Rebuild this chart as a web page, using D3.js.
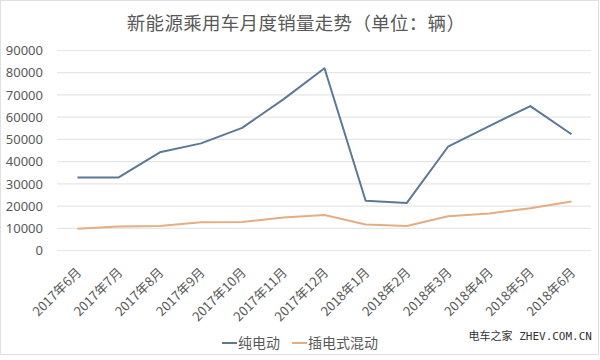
<!DOCTYPE html>
<html><head><meta charset="utf-8">
<script src="https://cdn.jsdelivr.net/npm/d3@7"></script>
<style>body{margin:0;background:#fff}svg{display:block}text{font-family:"Noto Sans CJK SC","Microsoft YaHei",sans-serif}</style>
</head><body>
<svg id="c" width="600" height="360"></svg>
<script>
const months = ["2017年6月","2017年7月","2017年8月","2017年9月","2017年10月","2017年11月","2017年12月","2018年1月","2018年2月","2018年3月","2018年4月","2018年5月","2018年6月"];
const bev = [32900,32900,44200,48200,55200,68000,82000,22400,21400,46700,56000,65000,52300];
const phev = [9800,10800,11000,12700,12800,14900,16000,11700,11000,15400,16700,19000,22100];
const yTicks = [0,10000,20000,30000,40000,50000,60000,70000,80000,90000];
const seriesNames = ["纯电动","插电式混动"];
const colors = ["#5b7897","#e4ad82"];

const svg = d3.select("#c");
svg.append("rect").attr("x",0.5).attr("y",0.5).attr("width",598).attr("height",354).attr("fill","#fff").attr("stroke","#e0e0e0");

const x = d3.scalePoint().domain(months).range([77.5,571.5]);
const y = d3.scaleLinear().domain([0,90000]).range([250.5,50.5]);

// gridlines
svg.append("g").selectAll("line").data(yTicks).join("line")
  .attr("x1",57).attr("x2",591).attr("y1",d=>y(d)).attr("y2",d=>y(d))
  .attr("stroke","#e6e6e6").attr("stroke-width",1.2);

// y axis
const ya = svg.append("g").attr("transform","translate(43,0)")
  .call(d3.axisLeft(y).tickValues(yTicks).tickSize(0).tickPadding(0).tickFormat(d3.format("d")));
ya.select(".domain").remove();
ya.selectAll("text").attr("fill","#595959").style("font-size","13px").style("font-family","'Noto Sans','Open Sans',sans-serif");

// x axis
const xa = svg.append("g").attr("transform","translate(0,270)")
  .call(d3.axisBottom(x).tickSize(0).tickPadding(0));
xa.select(".domain").remove();
xa.selectAll("text").attr("fill","#595959").style("font-size","13px")
  .attr("text-anchor","end").attr("dy","0.35em")
  .attr("transform","translate(1,0) rotate(-45)");

// lines
const line = d3.line().x((d,i)=>x(months[i])).y(d=>y(d));
[bev,phev].forEach((s,k)=>{
  svg.append("path").datum(s).attr("d",line).attr("fill","none")
    .attr("stroke",colors[k]).attr("stroke-width",2).attr("stroke-linejoin","round");
});

// title
svg.append("text").attr("x",296).attr("y",30).attr("text-anchor","middle")
  .attr("fill","#595959").style("font-size","18.5px").style("letter-spacing","0.3px")
  .text("新能源乘用车月度销量走势（单位：辆）");

// legend
const lg = svg.append("g");
const legX = [222,292];
seriesNames.forEach((n,k)=>{
  lg.append("line").attr("x1",legX[k]).attr("x2",legX[k]+15).attr("y1",343).attr("y2",343)
    .attr("stroke",colors[k]).attr("stroke-width",2);
  lg.append("text").attr("x",legX[k]+16).attr("y",343).attr("dy","0.35em")
    .attr("fill","#595959").style("font-size","14px").text(n);
});

// watermark
svg.append("text").attr("x",592).attr("y",336).attr("dy","0.35em").attr("text-anchor","end")
  .attr("fill","#333").style("font-size","11px").style("font-family","'DejaVu Sans Mono','Noto Sans CJK SC',monospace")
  .text("电车之家 ZHEV.COM.CN");
</script>
</body></html>
